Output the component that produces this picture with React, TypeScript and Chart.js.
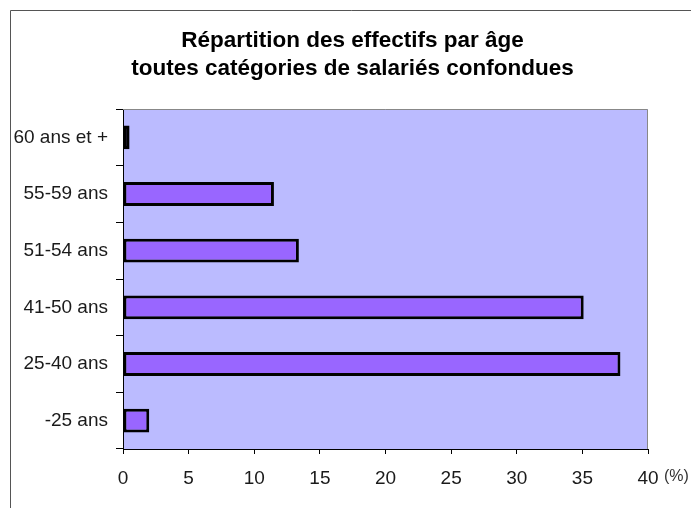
import React, { useEffect, useRef } from "react";
import { Chart, registerables } from "chart.js";

Chart.register(...registerables);

const titleLines = ["Répartition des effectifs par âge", "toutes catégories de salariés confondues"];
const categories = ["60 ans et +", "55-59 ans", "51-54 ans", "41-50 ans", "25-40 ans", "-25 ans"];
const shares = [0.5, 11.5, 13.4, 35.1, 37.9, 2.0];
const xUnit = "(%)";

const FONT = "'Liberation Sans', Arial, Helvetica, sans-serif";

const decorPlugin = {
  id: "decor",
  beforeDraw(chart: any) {
    const { ctx, chartArea: a, width, height } = chart;
    ctx.save();
    ctx.fillStyle = "#ffffff";
    ctx.fillRect(0, 0, width, height);
    // outer frame (top + left)
    ctx.strokeStyle = "#555555";
    ctx.lineWidth = 1;
    ctx.beginPath();
    ctx.moveTo(10.5, height + 5);
    ctx.lineTo(10.5, 10.5);
    ctx.lineTo(width + 5, 10.5);
    ctx.stroke();
    // plot background
    ctx.fillStyle = "#bbbbff";
    ctx.fillRect(a.left, a.top, a.right - a.left, a.bottom - a.top);
    // title
    ctx.fillStyle = "#000000";
    ctx.font = `bold 22.5px ${FONT}`;
    ctx.textAlign = "center";
    ctx.textBaseline = "alphabetic";
    titleLines.forEach((line, i) => ctx.fillText(line, width / 2 + 7, 47 + i * 28));
    ctx.restore();
  },
  afterDraw(chart: any) {
    const { ctx, chartArea: a } = chart;
    ctx.save();
    ctx.strokeStyle = "#888888";
    ctx.lineWidth = 1;
    ctx.beginPath();
    ctx.moveTo(a.left, a.top + 0.5);
    ctx.lineTo(a.right - 0.5, a.top + 0.5);
    ctx.lineTo(a.right - 0.5, a.bottom);
    ctx.stroke();
    // unit label after the last x tick
    ctx.fillStyle = "#333333";
    ctx.font = `16px ${FONT}`;
    ctx.textBaseline = "middle";
    ctx.textAlign = "left";
    ctx.fillText(xUnit, a.right + 16, a.bottom + 28);
    ctx.restore();
  },
};

export default function App() {
  const ref = useRef<HTMLCanvasElement | null>(null);
  useEffect(() => {
    document.body.style.margin = "0";
    const chart = new Chart(ref.current as HTMLCanvasElement, {
      type: "bar",
      data: {
        labels: categories,
        datasets: [
          {
            data: shares,
            backgroundColor: "#9966ff",
            borderColor: "#000000",
            borderWidth: 3,
            borderSkipped: false,
            barPercentage: 0.42,
            categoryPercentage: 1,
          },
        ],
      },
      options: {
        indexAxis: "y",
        responsive: false,
        animation: false,
        events: [],
        layout: { padding: { left: 0, right: 43, top: 109, bottom: 0 } },
        plugins: {
          legend: { display: false },
          tooltip: { enabled: false },
          title: { display: false },
        },
        scales: {
          x: {
            min: 0,
            max: 40,
            ticks: {
              stepSize: 5,
              color: "#1a1a1a",
              font: { family: FONT, size: 19 },
              padding: 13,
            },
            grid: {
              display: true,
              drawOnChartArea: false,
              drawTicks: true,
              tickLength: 5,
              color: "#000000",
            },
            border: { display: true, color: "#000000", width: 1 },
            afterFit(scale: any) {
              scale.height = 59;
            },
          },
          y: {
            ticks: {
              color: "#1a1a1a",
              font: { family: FONT, size: 19 },
              padding: 8,
            },
            grid: {
              display: true,
              drawOnChartArea: false,
              drawTicks: true,
              tickLength: 7,
              color: "#000000",
              offset: true,
            },
            border: { display: true, color: "#000000", width: 1 },
            afterFit(scale: any) {
              scale.width = 123;
            },
          },
        },
      },
      plugins: [decorPlugin],
    } as any);
    return () => chart.destroy();
  }, []);
  return (
    <div style={{ width: 691, height: 508 }}>
      <canvas ref={ref} width={691} height={508} style={{ display: "block" }} />
    </div>
  );
}
